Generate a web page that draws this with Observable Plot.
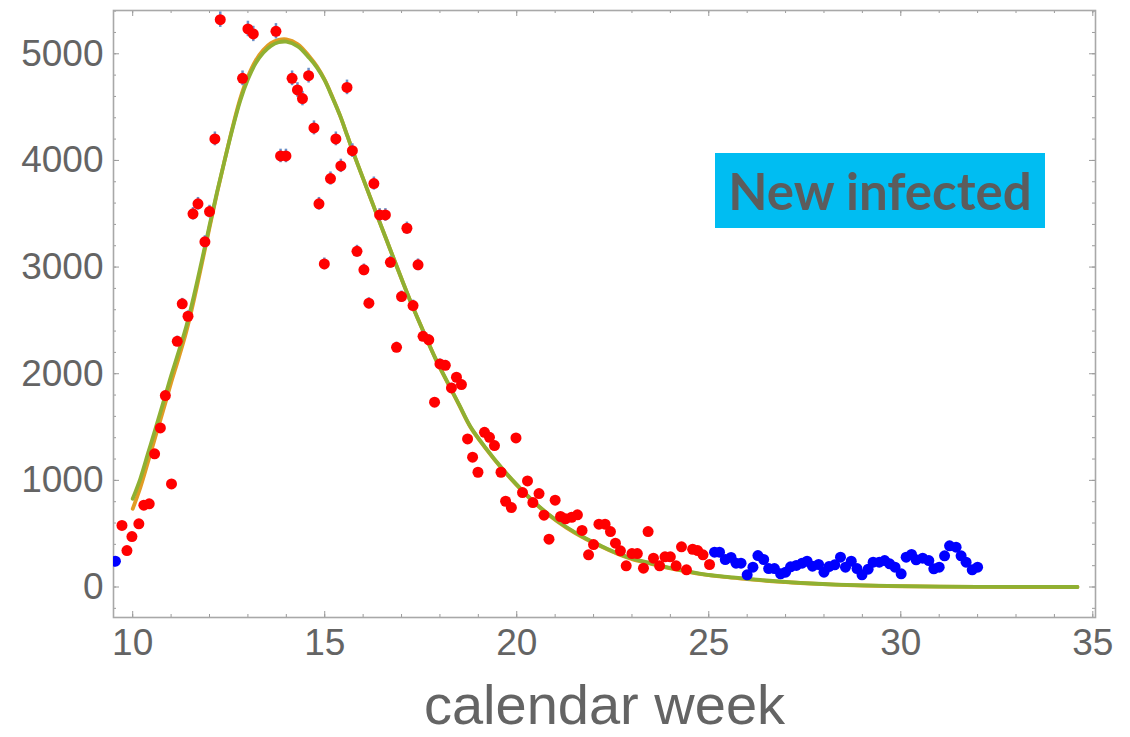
<!DOCTYPE html>
<html><head><meta charset="utf-8">
<script src="https://cdn.jsdelivr.net/npm/d3@7"></script>
<script src="https://cdn.jsdelivr.net/npm/@observablehq/plot@0.6"></script>
<style>
body{margin:0;background:#fff;}
#wrap{position:relative;width:1130px;height:737px;overflow:hidden;}
#legend{position:absolute;left:715px;top:153px;width:330px;height:75px;background:#00bdf2;color:#5c5c5c;font-family:Lato,sans-serif;font-weight:700;font-size:51px;display:flex;align-items:center;justify-content:center;line-height:1;}
</style></head><body>
<div id="wrap"><div id="legend">New infected</div></div>
<script>
// ---- data ----
const redWeeks = [9.72,9.85,9.98,10.16,10.29,10.43,10.57,10.72,10.85,11.01,11.16,11.29,11.44,11.57,11.70,11.88,12.0,12.14,12.28,12.86,13.0,13.14,13.73,13.85,13.99,14.15,14.29,14.42,14.58,14.72,14.85,14.99,15.15,15.29,15.42,15.58,15.72,15.84,16.02,16.15,16.28,16.43,16.58,16.71,16.87,17.0,17.14,17.3,17.43,17.56,17.71,17.86,18.0,18.14,18.3,18.43,18.56,18.72,18.85,18.99,19.16,19.29,19.42,19.59,19.71,19.86,19.98,20.15,20.28,20.42,20.58,20.71,20.84,21.0,21.14,21.27,21.43,21.58,21.7,21.87,22.0,22.14,22.3,22.44,22.57,22.7,22.85,23.0,23.14,23.3,23.42,23.56,23.72,23.86,24.0,24.15,24.29,24.42,24.58,24.71,24.85,25.02];
const redCounts = [577,342,473,592,767,780,1249,1492,1795,967,2304,2655,2539,3499,3593,3237,3520,4202,5320,4770,5233,5186,5211,4042,4042,4770,4661,4580,4795,4305,3593,3030,3830,4202,3949,4685,4092,3148,2974,2661,3783,3489,3489,3045,2248,2723,3364,2639,3021,2351,2318,1733,2092,2079,1867,1967,1898,1389,1217,1076,1451,1404,1326,1076,804,745,1398,886,995,792,876,673,448,814,661,639,654,677,530,302,398,589,589,520,411,339,199,314,314,176,520,270,199,283,283,199,377,161,354,342,302,211];

const blueWeeks = [9.55,25.15,25.28,25.43,25.58,25.71,25.84,26.0,26.15,26.28,26.43,26.56,26.71,26.87,27.0,27.13,27.28,27.43,27.56,27.7,27.86,28.0,28.13,28.28,28.43,28.56,28.71,28.86,28.99,29.15,29.28,29.44,29.58,29.71,29.85,30.01,30.14,30.28,30.4,30.57,30.73,30.86,31.0,31.14,31.27,31.44,31.57,31.7,31.86,32.0];
const blueCounts = [242,326,326,258,277,223,223,114,186,295,258,173,173,124,139,189,202,223,242,195,211,139,192,208,280,186,242,173,114,167,233,233,248,217,186,124,280,305,255,270,248,170,186,292,386,373,292,233,161,186];

const fitWeeks = [10.0,10.2,10.4,10.6,10.85,11.0,11.2,11.4,11.6,11.8,12.0,12.2,12.4,12.6,12.8,13.0,13.2,13.4,13.6,13.8,14.0,14.3,14.6,14.8,15.0,15.2,15.4,15.6,15.8,16.0,16.2,16.4,16.7,17.0,17.3,17.6,17.9,18.2,18.5,18.8,19.2,19.6,20.0,20.4,20.8,21.3,21.8,22.2,22.6,23.0,23.5,23.9,24.4,24.8,25.4,26.0,26.5,27.0,27.5,28.3,29.0,30.0,31.0,32.0,33.0,34.6];
const greenFit = [827,1017,1255,1492,1795,1980,2210,2450,2740,3060,3390,3710,4010,4300,4560,4760,4910,5010,5075,5108,5114,5070,4960,4870,4750,4590,4420,4220,4020,3830,3640,3450,3170,2890,2620,2370,2130,1920,1710,1500,1300,1120,960,815,690,560,455,385,320,268,222,186,150,124,97,77,61,48,37,23,15,8,4,2,1,0];
const orangeFit = [733,935,1175,1420,1725,1915,2150,2400,2700,3030,3370,3700,4010,4310,4580,4785,4935,5035,5100,5130,5135,5090,4975,4880,4755,4595,4420,4220,4020,3830,3640,3450,3170,2890,2620,2370,2130,1915,1705,1495,1295,1115,955,810,685,555,450,380,315,262,217,181,146,120,94,74,58,46,35,22,14,7,3,1,0,0];

const xMajorTicks = [10,15,20,25,30,35];
const xMinorTicks = [10,11,12,13,14,15,16,17,18,19,20,21,22,23,24,25,26,27,28,29,30,31,32,33,34,35];
const yMajorTicks = [0,1000,2000,3000,4000,5000];
const yMinorTicks = [-200,0,200,400,600,800,1000,1200,1400,1600,1800,2000,2200,2400,2600,2800,3000,3200,3400,3600,3800,4000,4200,4400,4600,4800,5000,5200,5400];
const xTitle = "calendar week";

// ---- tables ----
const red = redWeeks.map((w,i)=>({week:w, count:redCounts[i]}));
const blue = blueWeeks.map((w,i)=>({week:w, count:blueCounts[i]}));
const green = fitWeeks.map((w,i)=>({week:w, value:greenFit[i]}));
const orange = fitWeeks.map((w,i)=>({week:w, value:orangeFit[i]}));

const W = 1130, H = 737, mL = 113, mR = 35, mT = 10, mB = 120;
const FW = W - mL - mR, FH = H - mT - mB;
const tickCol = "#9a9a9a";
const textCol = "#646464";

const chart = Plot.plot({
  width: W, height: H,
  marginLeft: mL, marginRight: mR, marginTop: mT, marginBottom: mB,
  x: {domain: [9.5, 35.07]},
  y: {domain: [-286, 5406]},
  style: {fontFamily: "'Liberation Sans', Arial, sans-serif", background: "#fff", color: textCol},
  marks: [
    // inward ticks on all four sides
    Plot.tickX(xMinorTicks, {x: d=>d, insetTop: FH-3, stroke: tickCol}),
    Plot.tickX(xMinorTicks, {x: d=>d, insetBottom: FH-3, stroke: tickCol}),
    Plot.tickX(xMajorTicks, {x: d=>d, insetTop: FH-6, stroke: tickCol}),
    Plot.tickX(xMajorTicks, {x: d=>d, insetBottom: FH-6, stroke: tickCol}),
    Plot.tickY(yMinorTicks, {y: d=>d, insetRight: FW-3, stroke: tickCol}),
    Plot.tickY(yMinorTicks, {y: d=>d, insetLeft: FW-3, stroke: tickCol}),
    Plot.tickY(yMajorTicks, {y: d=>d, insetRight: FW-6, stroke: tickCol}),
    Plot.tickY(yMajorTicks, {y: d=>d, insetLeft: FW-6, stroke: tickCol}),
    Plot.frame({stroke: "#a8a8a8", strokeWidth: 1.6}),
    Plot.axisX({ticks: xMajorTicks, tickSize: 0, tickPadding: 11, fontSize: 37, tickFormat: d=>String(d), label: null, fill: textCol}),
    Plot.axisY({ticks: yMajorTicks, tickSize: 0, tickPadding: 10, fontSize: 37, tickFormat: d=>String(d), label: null, fill: textCol}),
    // fitted curves
    Plot.line(orange, {x: "week", y: "value", stroke: "#e19c24", strokeWidth: 3.8, curve: "catmull-rom"}),
    Plot.line(green, {x: "week", y: "value", stroke: "#8fb032", strokeWidth: 3.8, curve: "catmull-rom"}),
    // error bars (Poisson, ±sqrt of count)
    Plot.ruleX(red, {x: "week", y1: d=>d.count - Math.sqrt(d.count), y2: d=>d.count + Math.sqrt(d.count), stroke: "#6a8fc8", strokeWidth: 2.5}),
    Plot.dot(red, {x: "week", y: "count", r: 5.5, fill: "#ff0000", stroke: "none"}),
    Plot.dot(blue, {x: "week", y: "count", r: 5.5, fill: "#0000ff", stroke: "none", clip: true}),
    Plot.text([xTitle], {frameAnchor: "bottom", dy: 106, fontSize: 56, fill: textCol})
  ]
});
const wrap = document.getElementById("wrap");
wrap.insertBefore(chart, document.getElementById("legend"));
</script>
</body></html>
